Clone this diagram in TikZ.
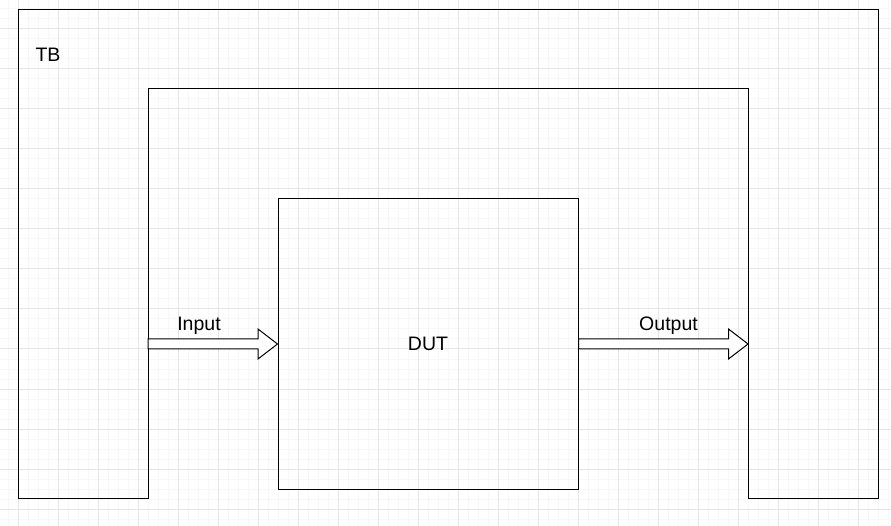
\documentclass[tikz,border=0pt]{standalone}
\usepackage{fontspec}
\setmainfont{Liberation Sans}
\usetikzlibrary{calc}
\tikzset{
  gridminor/.style={draw=black!3, line width=1pt},
  gridmajor/.style={draw=black!10, line width=1pt},
  wall/.style={draw=black, line width=1pt},
  lbl/.style={font=\fontsize{19.5}{23}\selectfont, inner sep=0pt},
  fatarrow/.style={draw=black, fill=white, line width=1pt, line join=miter},
}
% block arrow from #1 to the tip #2
\newcommand{\blockarrow}[2]{%
  \draw[fatarrow] ($(#1)+(0,-5)$) -- ($(#2)+(-19.5,-5)$) -- ($(#2)+(-19.5,-15)$) -- (#2)
    -- ($(#2)+(-19.5,15)$) -- ($(#2)+(-19.5,5)$) -- ($(#1)+(0,5)$) -- cycle;}
\begin{document}
\begin{tikzpicture}[x=1pt,y=-1pt]
	\useasboundingbox (0,0) rectangle (891,526);
	% background grid
	\foreach \x in {8,18,...,888} \draw[gridminor] (\x,0) -- (\x,526);
	\foreach \y in {9,19,...,519} \draw[gridminor] (0,\y) -- (891,\y);
	\foreach \x in {18,58,...,858} \draw[gridmajor] (\x,0) -- (\x,526);
	\foreach \y in {29,69,...,509} \draw[gridmajor] (0,\y) -- (891,\y);
	% testbench
	\draw[wall] (18,10) -- (878,10) -- (878,498) -- (748,498) -- (748,89) -- (148,89) -- (148,498) -- (18,498) -- cycle;
	\coordinate (tbin) at (148,344);
	\coordinate (tbout) at (748,344);
	\node[lbl] (tb) at (48,54.5) {TB};
	% device under test
	\node[lbl, draw, line width=1pt, minimum width=300, minimum height=290] (dut) at (428,344) {DUT};
	\blockarrow{tbin}{dut.west}
	\blockarrow{dut.east}{tbout}
	\node[lbl, anchor=base] (inlbl) at (199,330.5) {Input};
	\node[lbl, anchor=base] (outlbl) at (668.5,330.5) {Output};
\end{tikzpicture}
\end{document}
